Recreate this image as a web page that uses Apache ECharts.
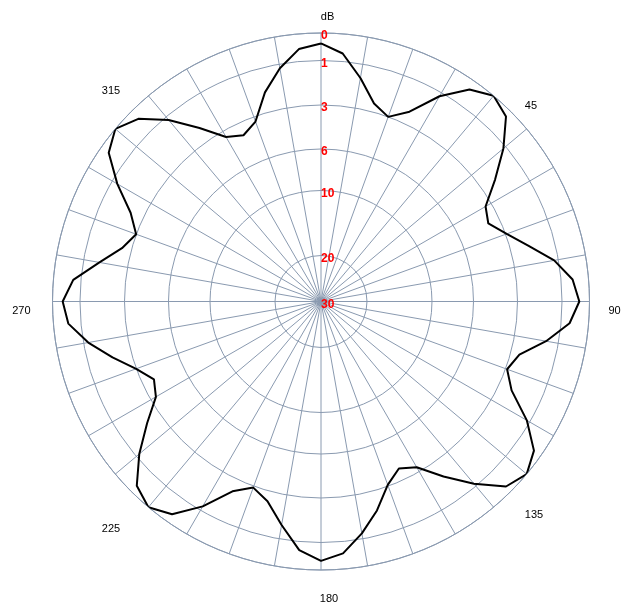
<!DOCTYPE html>
<html><head><meta charset="utf-8">
<script src="https://cdn.jsdelivr.net/npm/echarts@6/dist/echarts.min.js"></script>
<style>html,body{margin:0;padding:0;background:#fff}#c{width:635px;height:607px}</style>
</head><body><div id="c"></div><script>
// azimuth (degrees) of each measured point
const angles = [0,5,10,15,20,25,30,35,40,45,50,55,60,65,70,75,80,85,
  90,95,100,105,110,115,120,125,130,135,140,145,150,155,160,165,170,175,
  180,185,190,195,200,205,210,215,220,225,230,235,240,245,250,255,260,265,
  270,275,280,285,290,295,300,305,310,315,320,325,330,335,340,345,350,355];
// attenuation in dB
const gainDb = [0.38,0.71,1.63,2.62,3.0,2.42,1.18,0.35,0.0,0.25,1.13,2.28,3.44,3.81,2.95,2.17,1.19,0.58,
  0.37,0.69,1.56,2.60,2.93,2.38,1.15,0.31,0.0,0.25,1.14,2.23,3.35,3.83,3.09,2.11,1.25,0.57,
  0.33,0.69,1.63,2.54,2.93,2.42,1.20,0.32,0.0,0.29,1.17,2.29,3.40,3.83,2.99,2.13,1.21,0.54,
  0.37,0.72,1.72,2.57,2.99,2.39,1.26,0.34,0.0,0.37,1.18,2.31,3.45,3.89,3.34,2.10,1.19,0.55];
// radial scale: dB ring values and their fraction of full radius
const ringDb = [0,1,3,6,10,20,30];
const ringLabels = ['0','1','3','6','10','20','30'];
const ringFrac = [1,0.8976,0.7318,0.568,0.4134,0.1713,0];
// angle labels
const angleLabelValues = [0,45,90,135,180,225,270,315];
const angleLabels = ['dB','45','90','135','180','225','270','315'];

function dbToR(db){
  if (db <= ringDb[0]) return ringFrac[0];
  for (let i = 0; i < ringDb.length - 1; i++) {
    if (db <= ringDb[i+1]) {
      const t = (db - ringDb[i]) / (ringDb[i+1] - ringDb[i]);
      return ringFrac[i] + t * (ringFrac[i+1] - ringFrac[i]);
    }
  }
  return 0;
}
const lineData = angles.map((a, i) => [dbToR(gainDb[i]), a]);
lineData.push([dbToR(gainDb[0]), 360]);

const labelFont = 'Liberation Sans, Arial, sans-serif';
// per-label nudges [top, right, bottom, left]
const labelPads = [[0,0,20,13],[0,0,0,14],[19,0,0,19],[36,0,0,14],[45,0,0,16],[63,11,0,0],[18,22,0,0],[0,11,30,0]];
const rich = {};
labelPads.forEach((p, i) => {
  rich['l' + i] = { padding: p, fontSize: 11, lineHeight: 12, fontFamily: labelFont, color: '#000' };
});

const gridColor = '#8a9ab0';
const chart = echarts.init(document.getElementById('c'), null, {renderer: 'canvas'});
chart.setOption({
  animation: false,
  backgroundColor: '#fff',
  polar: { center: [321, 301.5], radius: 268.5 },
  angleAxis: {
    type: 'value', min: 0, max: 360, interval: 10,
    startAngle: 90, clockwise: true,
    axisLine: { show: true, lineStyle: { color: gridColor, width: 1 } },
    axisTick: { show: false },
    splitLine: { show: true, lineStyle: { color: gridColor, width: 1 } },
    axisLabel: {
      customValues: angleLabelValues,
      margin: 0,
      color: '#000',
      fontFamily: labelFont,
      fontSize: 11,
      rich: rich,
      formatter: function (v) {
        const i = angleLabelValues.indexOf(Math.round(v));
        return i >= 0 ? '{l' + i + '|' + angleLabels[i] + '}' : '';
      }
    }
  },
  radiusAxis: {
    type: 'value', min: 0, max: 1,
    axisLine: { show: false },
    axisTick: { show: false, customValues: ringFrac },
    splitLine: { show: true, lineStyle: { color: gridColor, width: 1 } },
    axisLabel: {
      customValues: ringFrac,
      showMinLabel: true, showMaxLabel: true,
      margin: 0,
      align: 'left',
      verticalAlign: 'top',
      lineHeight: 6,
      color: '#ff0000',
      fontWeight: 'bold',
      fontFamily: labelFont,
      fontSize: 12,
      formatter: function (v) {
        const i = ringFrac.findIndex(f => Math.abs(f - v) < 1e-6);
        return i >= 0 ? ringLabels[i] : '';
      }
    }
  },
  series: [{
    type: 'line',
    coordinateSystem: 'polar',
    data: lineData,
    showSymbol: false,
    symbol: 'none',
    lineStyle: { color: '#000', width: 2 },
    z: 5
  }]
});
</script></body></html>
